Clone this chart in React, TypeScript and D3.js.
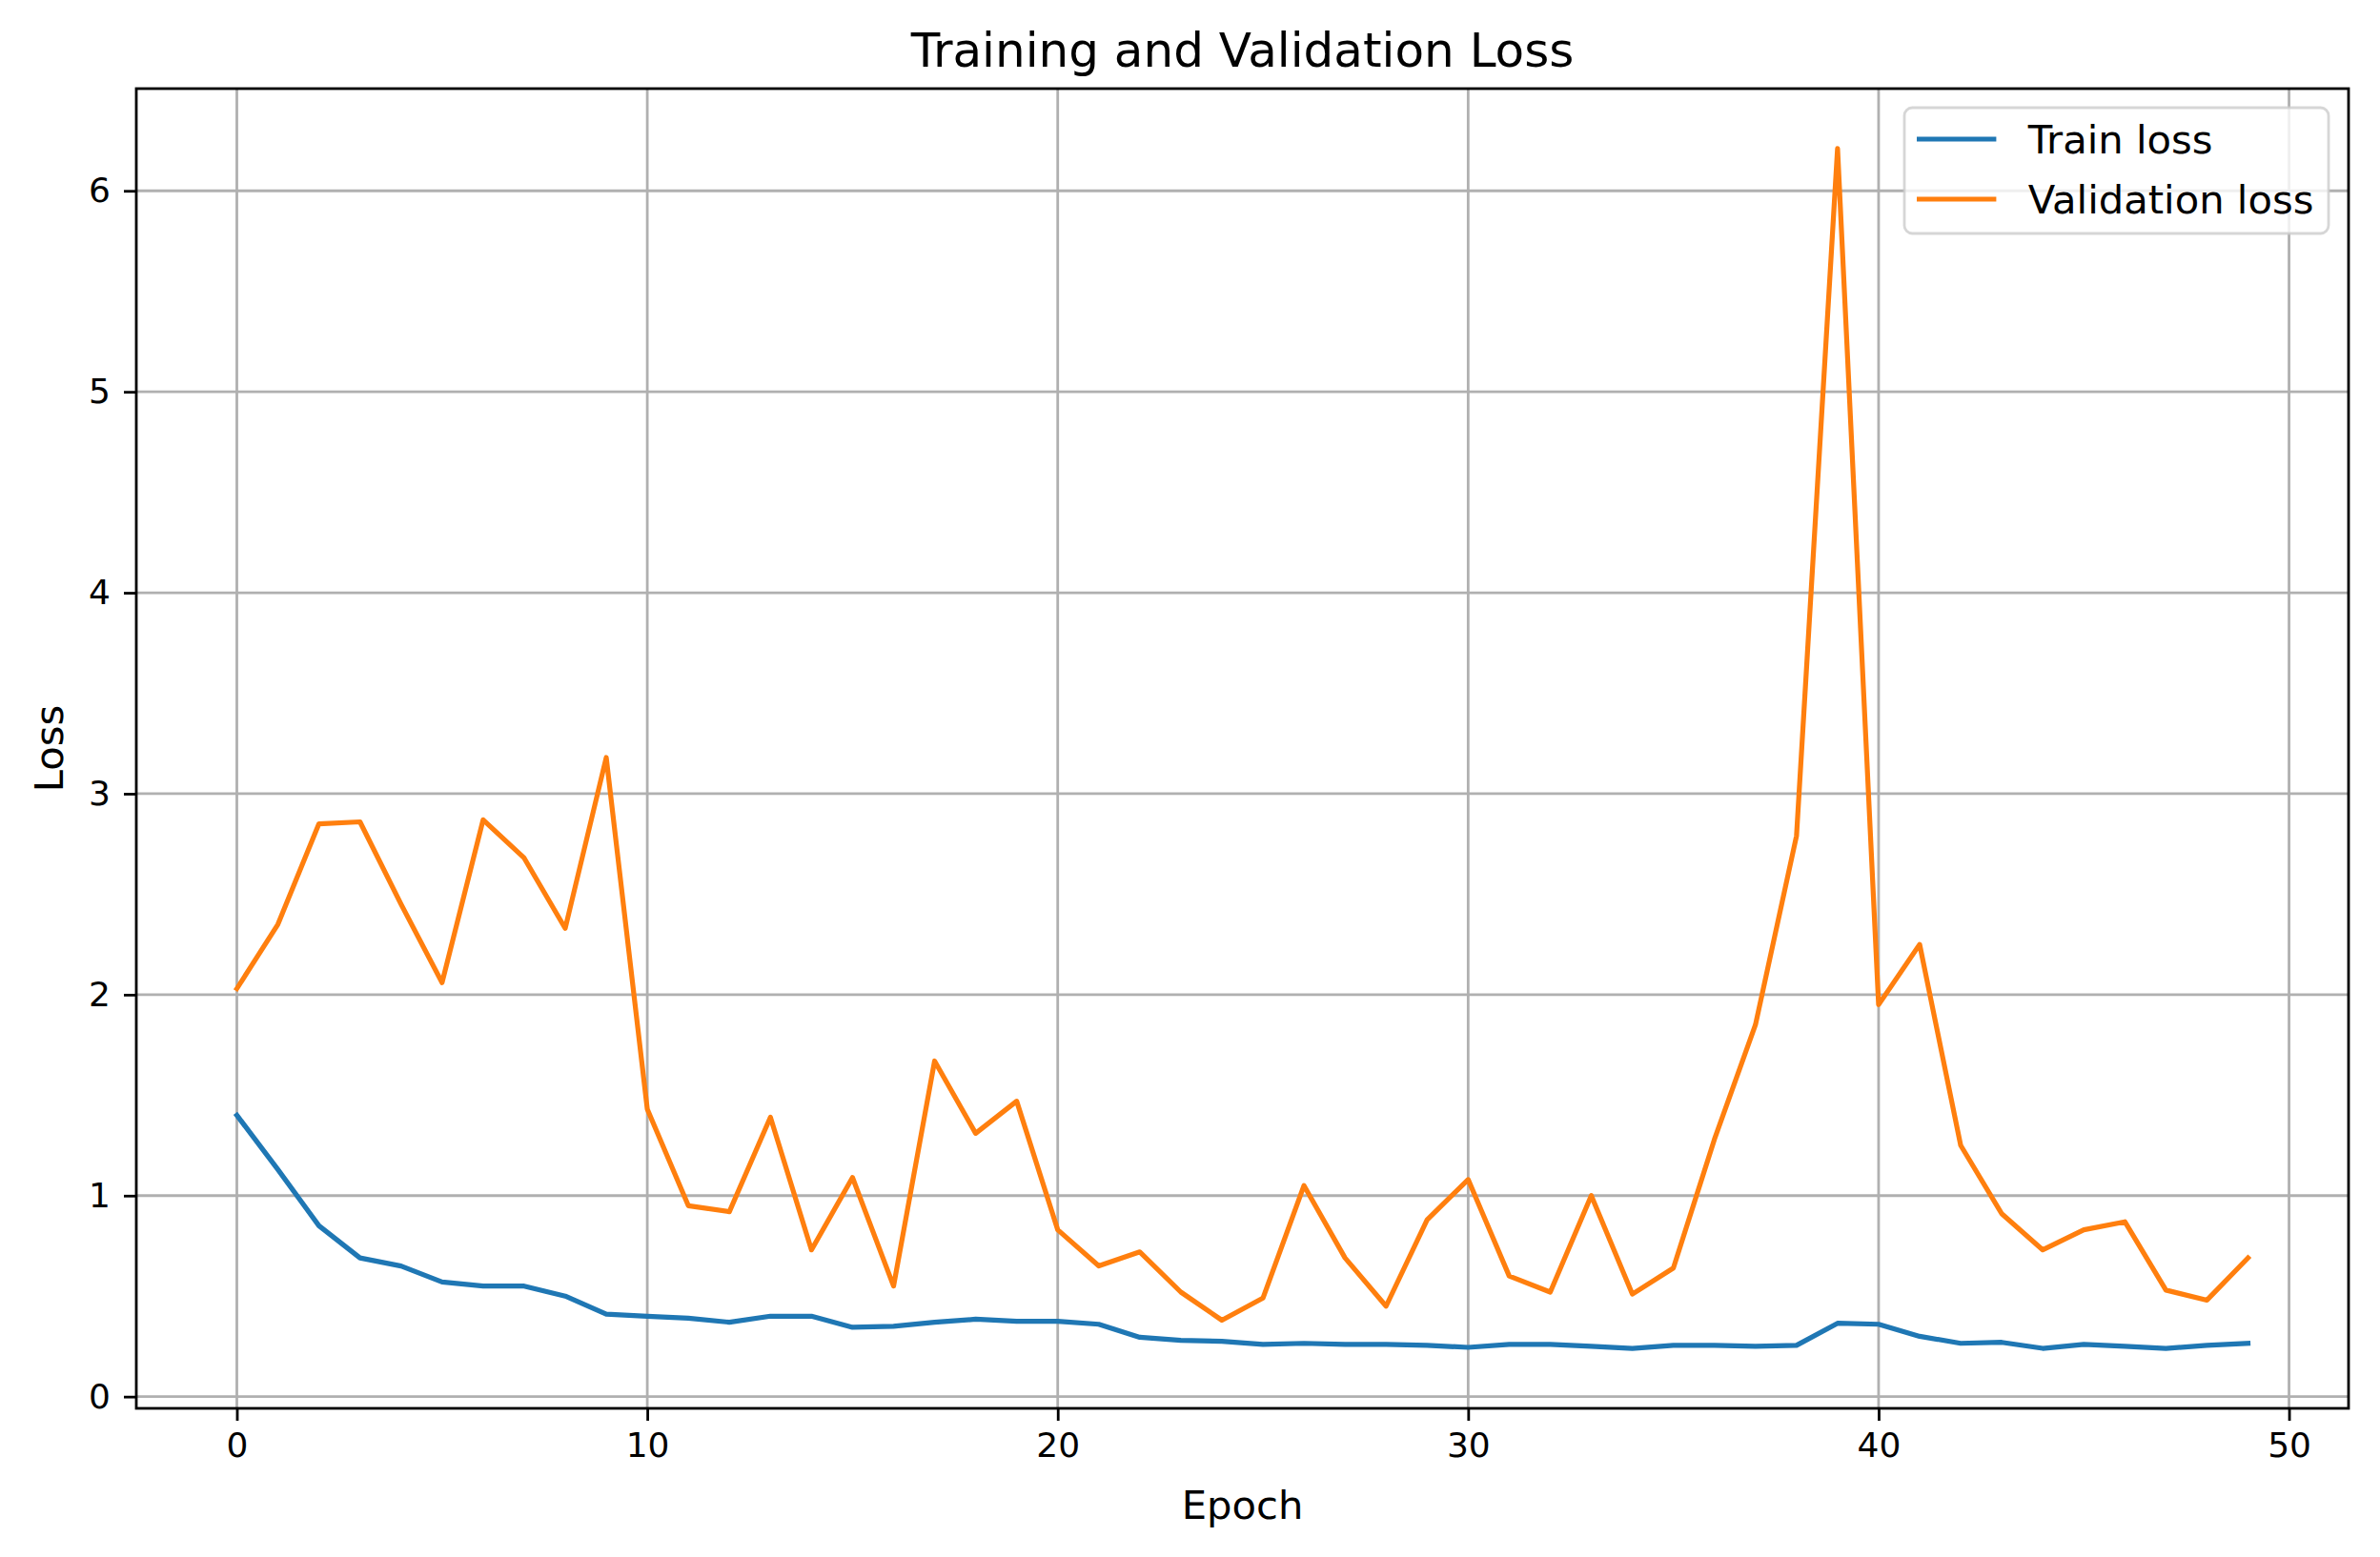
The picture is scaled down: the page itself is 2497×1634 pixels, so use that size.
import { useEffect, useRef } from 'react';
import * as d3 from 'd3';

// values
const trainLoss = [
  1.40, 1.13, 0.85, 0.69, 0.65, 0.57, 0.55, 0.55, 0.50, 0.41,
  0.40, 0.39, 0.37, 0.40, 0.40, 0.345, 0.35, 0.37, 0.385, 0.375,
  0.375, 0.36, 0.295, 0.28, 0.275, 0.26, 0.265, 0.26, 0.26, 0.255,
  0.245, 0.26, 0.26, 0.25, 0.24, 0.255, 0.255, 0.25, 0.255, 0.365,
  0.36, 0.30, 0.265, 0.27, 0.24, 0.26, 0.25, 0.24, 0.255, 0.265,
];

const valLoss = [
  2.03, 2.35, 2.85, 2.86, 2.45, 2.06, 2.87, 2.68, 2.33, 3.18,
  1.43, 0.95, 0.92, 1.39, 0.73, 1.09, 0.55, 1.67, 1.31, 1.47,
  0.83, 0.65, 0.72, 0.52, 0.38, 0.49, 1.05, 0.69, 0.45, 0.88,
  1.08, 0.60, 0.52, 1.00, 0.51, 0.64, 1.28, 1.85, 2.79, 6.21,
  1.95, 2.25, 1.25, 0.91, 0.73, 0.83, 0.87, 0.53, 0.48, 0.69,
];

const xTicks = [0, 10, 20, 30, 40, 50];
const yTicks = [0, 1, 2, 3, 4, 5, 6];

const seriesNames = ['Train loss', 'Validation loss'];
const seriesColors = ['#1f77b4', '#ff7f0e'];

const W = 2497;
const H = 1634;
const FONT = '"DejaVu Sans", sans-serif';

export default function App() {
  const svgRef = useRef<SVGSVGElement>(null);

  useEffect(() => {
    if (!svgRef.current) return;

    const margin = { top: 93, right: W - 2464, bottom: H - 1478, left: 143 };
    const width = W - margin.left - margin.right;
    const height = H - margin.top - margin.bottom;

    d3.select(svgRef.current).selectAll('*').remove();

    const root = d3.select(svgRef.current);
    root.append('rect').attr('width', W).attr('height', H).attr('fill', 'white');

    const svg = root.append('g')
      .attr('transform', `translate(${margin.left},${margin.top})`);

    const epochs = trainLoss.map((_, i) => i);

    // matplotlib-like 5% margins
    const xPad = (epochs.length - 1) * 0.05;
    const allY = trainLoss.concat(valLoss);
    const yMin = d3.min(allY) || 0;
    const yMax = d3.max(allY) || 1;
    const yPad = (yMax - yMin) * 0.05;

    const x = d3.scaleLinear()
      .domain([-xPad, epochs.length - 1 + xPad])
      .range([0, width]);

    const y = d3.scaleLinear()
      .domain([yMin - yPad, yMax + yPad])
      .range([height, 0]);

    // grid
    const grid = svg.append('g');
    grid.selectAll('line.gx')
      .data(xTicks.filter(t => x(t) <= width))
      .enter().append('line')
      .attr('x1', d => x(d)).attr('x2', d => x(d))
      .attr('y1', 0).attr('y2', height)
      .attr('stroke', '#b0b0b0').attr('stroke-width', 2.8);
    grid.selectAll('line.gy')
      .data(yTicks)
      .enter().append('line')
      .attr('x1', 0).attr('x2', width)
      .attr('y1', d => y(d)).attr('y2', d => y(d))
      .attr('stroke', '#b0b0b0').attr('stroke-width', 2.8);

    // lines
    const line = d3.line<number>()
      .x((_, i) => x(epochs[i]))
      .y(d => y(d));

    [trainLoss, valLoss].forEach((s, k) => {
      svg.append('path')
        .datum(s)
        .attr('fill', 'none')
        .attr('stroke', seriesColors[k])
        .attr('stroke-width', 5.2)
        .attr('stroke-linejoin', 'round')
        .attr('stroke-linecap', 'square')
        .attr('d', line);
    });

    // spines
    svg.append('rect')
      .attr('width', width).attr('height', height)
      .attr('fill', 'none').attr('stroke', 'black').attr('stroke-width', 2.8);

    // axes
    const xAxis = svg.append('g')
      .attr('transform', `translate(0,${height})`)
      .call(d3.axisBottom(x).tickValues(xTicks).tickSize(13).tickPadding(12).tickFormat(d3.format('d')));
    const yAxis = svg.append('g')
      .call(d3.axisLeft(y).tickValues(yTicks).tickSize(13).tickPadding(14).tickFormat(d3.format('d')));

    [xAxis, yAxis].forEach(a => {
      a.select('.domain').remove();
      a.selectAll('.tick line').attr('stroke', 'black').attr('stroke-width', 2.8);
      a.selectAll('.tick text')
        .attr('fill', 'black')
        .style('font-family', FONT)
        .style('font-size', '36px');
    });

    // title and labels
    root.append('text')
      .attr('x', margin.left + width / 2)
      .attr('y', 70)
      .attr('text-anchor', 'middle')
      .style('font-family', FONT)
      .style('font-size', '50px')
      .text('Training and Validation Loss');

    root.append('text')
      .attr('x', margin.left + width / 2)
      .attr('y', 1594)
      .attr('text-anchor', 'middle')
      .style('font-family', FONT)
      .style('font-size', '41.7px')
      .text('Epoch');

    root.append('text')
      .attr('transform', `translate(66,${margin.top + height / 2}) rotate(-90)`)
      .attr('text-anchor', 'middle')
      .style('font-family', FONT)
      .style('font-size', '41.7px')
      .text('Loss');

    // legend
    const fs = 41.7;
    const legend = root.append('g').attr('transform', 'translate(1998,113)');
    legend.append('rect')
      .attr('width', 445).attr('height', 132)
      .attr('rx', 8.3).attr('ry', 8.3)
      .attr('fill', 'white').attr('fill-opacity', 0.8)
      .attr('stroke', '#cccccc').attr('stroke-opacity', 0.8)
      .attr('stroke-width', 2.8);

    seriesNames.forEach((name, i) => {
      const cy = 33 + i * 63;
      legend.append('line')
        .attr('x1', 13).attr('x2', 13 + 2 * fs)
        .attr('y1', cy).attr('y2', cy)
        .attr('stroke', seriesColors[i]).attr('stroke-width', 5.2);
      legend.append('text')
        .attr('x', 13 + 2.8 * fs)
        .attr('y', cy)
        .attr('dy', '0.36em')
        .style('font-family', FONT)
        .style('font-size', `${fs}px`)
        .text(name);
    });
  }, []);

  return (
    <div style={{ position: 'absolute', left: 0, top: 0 }}>
      <svg ref={svgRef} width={W} height={H} style={{ display: 'block' }}></svg>
    </div>
  );
}
